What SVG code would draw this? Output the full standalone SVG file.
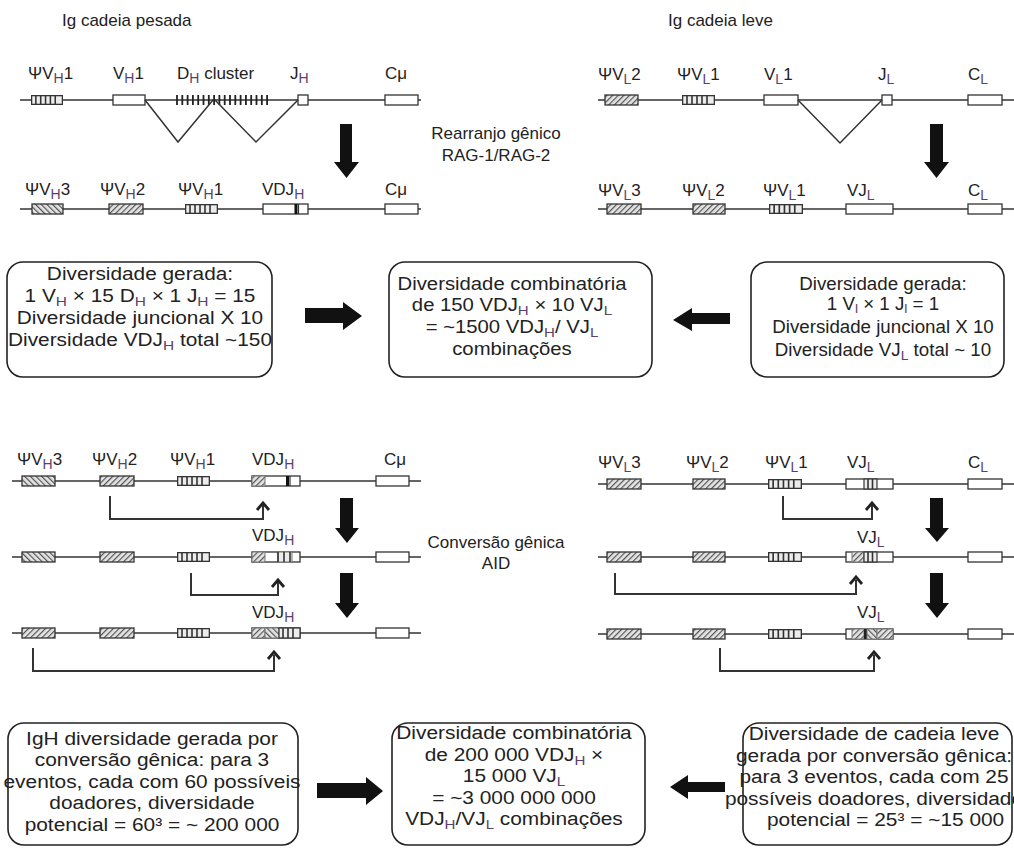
<svg xmlns="http://www.w3.org/2000/svg" xmlns:xlink="http://www.w3.org/1999/xlink" width="1014" height="848" viewBox="0 0 1014 848">
<style>
text{font-family:"Liberation Sans",Arial,sans-serif;fill:#222}
.t{font-size:17px}
.lb{font-size:17px}
.s{font-size:14px;fill:#5b3f6e}
.b{font-size:17.5px;text-anchor:middle}
.bb{font-size:18px;text-anchor:middle}
.bs{font-size:13px;fill:#5b3f6e}
.chr{stroke:#333;stroke-width:1.5;fill:none}
.bx{fill:#fff;stroke:#333;stroke-width:1.3}
.hf{fill:url(#hf);stroke:#333;stroke-width:1.3}
.hb{fill:url(#hb);stroke:#333;stroke-width:1.3}
.hfg{fill:url(#hf);stroke:#777;stroke-width:1}
.hbg{fill:url(#hb);stroke:#777;stroke-width:1}
.rb{fill:#fff;stroke:#222;stroke-width:1.6}
.con{stroke:#333;stroke-width:2;fill:none}
.chev{stroke:#222;stroke-width:2.8;fill:none;stroke-linejoin:miter}
.big{fill:#111}
.tri{stroke:#333;stroke-width:1.5;fill:none}
</style>
<defs>
<pattern id="hf" width="4" height="4" patternUnits="userSpaceOnUse" patternTransform="rotate(45)"><rect width="4" height="4" fill="#e4e4e4"/><line x1="0.6" y1="0" x2="0.6" y2="4" stroke="#555" stroke-width="1.2"/></pattern>
<pattern id="hb" width="4" height="4" patternUnits="userSpaceOnUse" patternTransform="rotate(-45)"><rect width="4" height="4" fill="#e4e4e4"/><line x1="0.6" y1="0" x2="0.6" y2="4" stroke="#555" stroke-width="1.2"/></pattern>
<symbol id="vs" viewBox="0 0 33 10" preserveAspectRatio="none">
<rect x="0.65" y="0.65" width="31.7" height="8.7" fill="#ececec" stroke="#333" stroke-width="1.3"/>
<path d="M5 0.6V9.4M10 0.6V9.4M15 0.6V9.4M20 0.6V9.4M25 0.6V9.4" stroke="#333" stroke-width="1.6"/>
</symbol>
</defs>
<rect width="1014" height="848" fill="#fff"/>

<g id="titles">
<text class="t" x="62" y="26">Ig cadeia pesada</text>
<text class="t" x="668" y="26">Ig cadeia leve</text>
<text class="t" x="496" y="139" text-anchor="middle">Rearranjo gênico</text>
<text class="t" x="496" y="161" text-anchor="middle">RAG-1/RAG-2</text>
<text class="t" x="496" y="548" text-anchor="middle">Conversão gênica</text>
<text class="t" x="496" y="569" text-anchor="middle">AID</text>
</g>

<!-- Heavy chain germline -->
<g id="heavy-germline">
<path class="chr" d="M20 100H421"/>
<g id="h1-psiVH1"><use href="#vs" x="31" y="95" width="32" height="10"/><text class="lb" x="28" y="79">ΨV<tspan class="s" dy="4">H</tspan><tspan dy="-4">1</tspan></text></g>
<g id="h1-VH1"><rect class="bx" x="113" y="95" width="32" height="10"/><text class="lb" x="113" y="79">V<tspan class="s" dy="4">H</tspan><tspan dy="-4">1</tspan></text></g>
<g id="h1-DH"><path d="M177 95v10M182.3 95v10M187.6 95v10M192.9 95v10M198.2 95v10M203.5 95v10M208.8 95v10M214.1 95v10M219.4 95v10M224.7 95v10M230 95v10M235.3 95v10M240.6 95v10M245.9 95v10M251.2 95v10M256.5 95v10M261.8 95v10M267.1 95v10" stroke="#222" stroke-width="1.8"/><text class="lb" x="177" y="79">D<tspan class="s" dy="4">H</tspan><tspan dy="-4"> cluster</tspan></text></g>
<g id="h1-JH"><rect class="bx" x="298" y="95" width="10" height="10"/><text class="lb" x="290" y="79">J<tspan class="s" dy="4">H</tspan></text></g>
<g id="h1-Cmu"><rect class="bx" x="385" y="95" width="33" height="10"/><text class="lb" x="385" y="79">Cμ</text></g>
</g>

<g id="heavy-rearranged">
<path class="chr" d="M20 209H421"/>
<g id="h2-psiVH3"><rect class="hb" x="32" y="204" width="31" height="10"/><text class="lb" x="25" y="195">ΨV<tspan class="s" dy="4">H</tspan><tspan dy="-4">3</tspan></text></g>
<g id="h2-psiVH2"><rect class="hf" x="109" y="204" width="34" height="10"/><text class="lb" x="100" y="195">ΨV<tspan class="s" dy="4">H</tspan><tspan dy="-4">2</tspan></text></g>
<g id="h2-psiVH1"><use href="#vs" x="185" y="204" width="33" height="10"/><text class="lb" x="178" y="195">ΨV<tspan class="s" dy="4">H</tspan><tspan dy="-4">1</tspan></text></g>
<g id="h2-VDJH"><rect class="bx" x="263" y="204" width="45" height="10"/><rect x="294.5" y="204" width="3" height="10" fill="#111"/><path d="M298.5 204v10" stroke="#333" stroke-width="1.2"/><text class="lb" x="262" y="195">VDJ<tspan class="s" dy="4">H</tspan></text></g>
<g id="h2-Cmu"><rect class="bx" x="385" y="204" width="33" height="10"/><text class="lb" x="385" y="195">Cμ</text></g>
</g>

<!-- Light chain germline -->
<g id="light-germline">
<path class="chr" d="M598 100H1014"/>
<g id="l1-psiVL2"><rect class="hf" x="605" y="95" width="33" height="10"/><text class="lb" x="598" y="80">ΨV<tspan class="s" dy="4">L</tspan><tspan dy="-4">2</tspan></text></g>
<g id="l1-psiVL1"><use href="#vs" x="682" y="95" width="33" height="10"/><text class="lb" x="677" y="80">ΨV<tspan class="s" dy="4">L</tspan><tspan dy="-4">1</tspan></text></g>
<g id="l1-VL1"><rect class="bx" x="764" y="95" width="34" height="10"/><text class="lb" x="764" y="80">V<tspan class="s" dy="4">L</tspan><tspan dy="-4">1</tspan></text></g>
<g id="l1-JL"><rect class="bx" x="882" y="95" width="10" height="10"/><text class="lb" x="878" y="80">J<tspan class="s" dy="4">L</tspan></text></g>
<g id="l1-CL"><rect class="bx" x="968" y="95" width="34" height="10"/><text class="lb" x="968" y="80">C<tspan class="s" dy="4">L</tspan></text></g>
</g>

<g id="light-rearranged">
<path class="chr" d="M598 209H1014"/>
<g id="l2-psiVL3"><rect class="hf" x="607" y="204" width="34" height="10"/><text class="lb" x="598" y="196">ΨV<tspan class="s" dy="4">L</tspan><tspan dy="-4">3</tspan></text></g>
<g id="l2-psiVL2"><rect class="hf" x="693" y="204" width="32" height="10"/><text class="lb" x="682" y="196">ΨV<tspan class="s" dy="4">L</tspan><tspan dy="-4">2</tspan></text></g>
<g id="l2-psiVL1"><use href="#vs" x="769" y="204" width="34" height="10"/><text class="lb" x="763" y="196">ΨV<tspan class="s" dy="4">L</tspan><tspan dy="-4">1</tspan></text></g>
<g id="l2-VJL"><rect class="bx" x="846" y="204" width="47" height="10"/><text class="lb" x="847" y="196">VJ<tspan class="s" dy="4">L</tspan></text></g>
<g id="l2-CL"><rect class="bx" x="968" y="204" width="34" height="10"/><text class="lb" x="968" y="196">C<tspan class="s" dy="4">L</tspan></text></g>
</g>

<!-- Summary boxes row 1 -->
<g id="box-heavy1">
<rect class="rb" x="7" y="262" width="265" height="115" rx="16"/>
<g transform="matrix(1.19,0,0,1,-26.6,0)">
<text class="b" x="140" y="280">Diversidade gerada:</text>
<text class="b" x="140" y="302">1 V<tspan class="bs" dy="4">H</tspan><tspan dy="-4"> × 15 D</tspan><tspan class="bs" dy="4">H</tspan><tspan dy="-4"> × 1 J</tspan><tspan class="bs" dy="4">H</tspan><tspan dy="-4"> = 15</tspan></text>
<text class="b" x="140" y="324">Diversidade juncional X 10</text>
<text class="b" x="140" y="346">Diversidade VDJ<tspan class="bs" dy="4">H</tspan><tspan dy="-4"> total ~150</tspan></text>
</g>
</g>
<g id="box-comb1">
<rect class="rb" x="389" y="262" width="263" height="115" rx="16"/>
<g transform="matrix(1.16,0,0,1,-81.92,0)">
<text class="b" x="512" y="290">Diversidade combinatória</text>
<text class="b" x="512" y="311">de 150 VDJ<tspan class="bs" dy="4">H</tspan><tspan dy="-4"> × 10 VJ</tspan><tspan class="bs" dy="4">L</tspan></text>
<text class="b" x="512" y="333">= ~1500 VDJ<tspan class="bs" dy="4">H</tspan><tspan dy="-4">/ VJ</tspan><tspan class="bs" dy="4">L</tspan></text>
<text class="b" x="512" y="355">combinações</text>
</g>
</g>
<g id="box-light1">
<rect class="rb" x="751" y="262" width="253" height="115" rx="16"/>
<g transform="matrix(1.07,0,0,1,-61.81,0)">
<text class="b" x="883" y="290">Diversidade gerada:</text>
<text class="b" x="883" y="310">1 V<tspan class="bs" font-size="10" dy="3">l</tspan><tspan dy="-3"> × 1 J</tspan><tspan class="bs" font-size="10" dy="3">l</tspan><tspan dy="-3"> = 1</tspan></text>
<text class="b" x="883" y="333">Diversidade juncional X 10</text>
<text class="b" x="883" y="356">Diversidade VJ<tspan class="bs" dy="4">L</tspan><tspan dy="-4"> total ~ 10</tspan></text>
</g>
</g>

<!-- Gene conversion heavy -->
<g id="heavy-conv-a">
<path class="chr" d="M12 481H421"/>
<g id="ha-psiVH3"><rect class="hb" x="22" y="476" width="33" height="10"/><text class="lb" x="17" y="465">ΨV<tspan class="s" dy="4">H</tspan><tspan dy="-4">3</tspan></text></g>
<g id="ha-psiVH2"><rect class="hf" x="100" y="476" width="34" height="10"/><text class="lb" x="92" y="465">ΨV<tspan class="s" dy="4">H</tspan><tspan dy="-4">2</tspan></text></g>
<g id="ha-psiVH1"><use href="#vs" x="177" y="476" width="33" height="10"/><text class="lb" x="170" y="465">ΨV<tspan class="s" dy="4">H</tspan><tspan dy="-4">1</tspan></text></g>
<g id="ha-VDJH"><rect class="bx" x="252" y="476" width="48" height="10"/><rect class="hfg" x="252" y="476" width="13" height="10"/><rect x="286" y="476" width="3" height="10" fill="#111"/><path d="M290 476v10" stroke="#333" stroke-width="1.2"/><text class="lb" x="252" y="465">VDJ<tspan class="s" dy="4">H</tspan></text></g>
<g id="ha-Cmu"><rect class="bx" x="376" y="476" width="33" height="10"/><text class="lb" x="384" y="465">Cμ</text></g>
</g>
<g id="heavy-conv-b">
<path class="chr" d="M12 557H421"/>
<rect class="hb" x="22" y="552" width="33" height="10"/>
<rect class="hf" x="100" y="552" width="34" height="10"/>
<use href="#vs" x="177" y="552" width="33" height="10"/>
<g id="hb-VDJH"><rect class="bx" x="252" y="552" width="48" height="10"/><rect class="hfg" x="252" y="552" width="13" height="10"/><rect x="278" y="552" width="14" height="10" fill="#ececec" stroke="#777" stroke-width="1"/><path d="M278 552v10M284 552v10M290 552v10" stroke="#333" stroke-width="1.6"/><text class="lb" x="252" y="541">VDJ<tspan class="s" dy="4">H</tspan></text></g>
<rect class="bx" x="376" y="552" width="33" height="10"/>
</g>
<g id="heavy-conv-c">
<path class="chr" d="M12 633H421"/>
<rect class="hf" x="22" y="628" width="33" height="10"/>
<rect class="hf" x="100" y="628" width="34" height="10"/>
<use href="#vs" x="177" y="628" width="33" height="10"/>
<g id="hc-VDJH"><rect class="bx" x="252" y="628" width="48" height="10"/><rect class="hfg" x="252" y="628" width="13" height="10"/><rect class="hbg" x="265" y="628" width="14" height="10"/><rect x="279" y="628" width="21" height="10" fill="#ececec" stroke="#333" stroke-width="1.2"/><path d="M283 628v10M288 628v10M293 628v10" stroke="#333" stroke-width="1.6"/><text class="lb" x="252" y="618">VDJ<tspan class="s" dy="4">H</tspan></text></g>
<rect class="bx" x="376" y="628" width="33" height="10"/>
</g>

<!-- Gene conversion light -->
<g id="light-conv-a">
<path class="chr" d="M598 484H1014"/>
<g id="la-psiVL3"><rect class="hf" x="607" y="479" width="34" height="10"/><text class="lb" x="598" y="468">ΨV<tspan class="s" dy="4">L</tspan><tspan dy="-4">3</tspan></text></g>
<g id="la-psiVL2"><rect class="hf" x="693" y="479" width="32" height="10"/><text class="lb" x="686" y="468">ΨV<tspan class="s" dy="4">L</tspan><tspan dy="-4">2</tspan></text></g>
<g id="la-psiVL1"><use href="#vs" x="768" y="479" width="34" height="10"/><text class="lb" x="765" y="468">ΨV<tspan class="s" dy="4">L</tspan><tspan dy="-4">1</tspan></text></g>
<g id="la-VJL"><rect class="bx" x="846" y="479" width="47" height="10"/><rect x="864" y="479" width="13" height="10" fill="#ececec" stroke="#333" stroke-width="1.2"/><path d="M868 479v10M872.5 479v10" stroke="#333" stroke-width="1.6"/><text class="lb" x="847" y="468">VJ<tspan class="s" dy="4">L</tspan></text></g>
<g id="la-CL"><rect class="bx" x="968" y="479" width="34" height="10"/><text class="lb" x="968" y="468">C<tspan class="s" dy="4">L</tspan></text></g>
</g>
<g id="light-conv-b">
<path class="chr" d="M598 557H1014"/>
<rect class="hf" x="607" y="552" width="34" height="10"/>
<rect class="hf" x="693" y="552" width="32" height="10"/>
<use href="#vs" x="768" y="552" width="34" height="10"/>
<g id="lb-VJL"><rect class="bx" x="846" y="552" width="47" height="10"/><rect class="hfg" x="852" y="552" width="12" height="10"/><rect x="864" y="552" width="13" height="10" fill="#ececec" stroke="#333" stroke-width="1.2"/><path d="M868 552v10M872.5 552v10" stroke="#333" stroke-width="1.6"/><text class="lb" x="857" y="543">VJ<tspan class="s" dy="4">L</tspan></text></g>
<rect class="bx" x="968" y="552" width="34" height="10"/>
</g>
<g id="light-conv-c">
<path class="chr" d="M598 634H1014"/>
<rect class="hf" x="607" y="629" width="34" height="10"/>
<rect class="hf" x="693" y="629" width="32" height="10"/>
<use href="#vs" x="768" y="629" width="34" height="10"/>
<g id="lc-VJL"><rect class="bx" x="846" y="629" width="47" height="10"/><rect class="hfg" x="852" y="629" width="12" height="10"/><rect x="864" y="629" width="3" height="10" fill="#222"/><rect class="hbg" x="867" y="629" width="10" height="10"/><rect class="hfg" x="877" y="629" width="16" height="10"/><text class="lb" x="857" y="618">VJ<tspan class="s" dy="4">L</tspan></text></g>
<rect class="bx" x="968" y="629" width="34" height="10"/>
</g>

<!-- Summary boxes row 2 -->
<g id="box-heavy2">
<rect class="rb" x="8" y="723" width="290" height="122" rx="16"/>
<g transform="matrix(1.16,0,0,1,-24.32,0)">
<text class="bb" x="152" y="745">IgH diversidade gerada por</text>
<text class="bb" x="152" y="766">conversão gênica: para 3</text>
<text class="bb" x="152" y="788">eventos, cada com 60 possíveis</text>
<text class="bb" x="152" y="809">doadores, diversidade</text>
<text class="bb" x="152" y="831">potencial = 60³ = ~ 200 000</text>
</g>
</g>
<g id="box-comb2">
<rect class="rb" x="392" y="723" width="253" height="122" rx="16"/>
<g transform="matrix(1.16,0,0,1,-82.24,0)">
<text class="bb" x="514" y="739">Diversidade combinatória</text>
<text class="bb" x="514" y="761">de 200 000 VDJ<tspan class="bs" dy="4">H</tspan><tspan dy="-4"> ×</tspan></text>
<text class="bb" x="514" y="782">15 000 VJ<tspan class="bs" dy="4">L</tspan></text>
<text class="bb" x="514" y="804">= ~3 000 000 000</text>
<text class="bb" x="514" y="825">VDJ<tspan class="bs" dy="4">H</tspan><tspan dy="-4">/VJ</tspan><tspan class="bs" dy="4">L</tspan><tspan dy="-4"> combinações</tspan></text>
</g>
</g>
<g id="box-light2">
<rect class="rb" x="743" y="723" width="269" height="122" rx="16"/>
<g transform="matrix(1.16,0,0,1,-139.84,0)">
<text class="bb" x="874" y="740">Diversidade de cadeia leve</text>
<text class="bb" x="874" y="762">gerada por conversão gênica:</text>
<text class="bb" x="874" y="783">para 3 eventos, cada com 25</text>
<text class="bb" x="874" y="805">possíveis doadores, diversidade</text>
<text class="bb" x="884" y="826">potencial = 25³ = ~15 000</text>
</g>
</g>

<g id="connectors">
<polyline class="tri" points="145,100 178,142 213,100"/>
<polyline class="tri" points="215,100 256,142 298,100"/>
<polyline class="tri" points="798,100 840,143 882,100"/>
<polygon class="big" points="340,124 352,124 352,162 359,162 346.5,178 334,162 340,162"/>
<polygon class="big" points="930,124 943,124 943,162 949,162 936.5,178 924,162 930,162"/>
<polygon class="big" points="305,308 343,308 343,302 362,316 343,330 343,323 305,323"/>
<polygon class="big" points="730,313 692,313 692,308 673,320 692,331 692,324 730,324"/>
<polygon class="big" points="340,498 353,498 353,528 359,528 347,543 335,528 340,528"/>
<polygon class="big" points="340,573 353,573 353,603 359,603 347,618 335,603 340,603"/>
<polygon class="big" points="930,498 943,498 943,528 949,528 937,542 925,528 930,528"/>
<polygon class="big" points="930,573 943,573 943,603 949,603 937,618 925,603 930,603"/>
<polygon class="big" points="317,783 366,783 366,777 383,791 366,805 366,798 317,798"/>
<polygon class="big" points="725,782 688,782 688,775 670,787 688,799 688,792 725,792"/>
<path class="con" d="M110 496V519H263V505"/>
<polyline class="chev" points="257,510 263,503 269,510"/>
<path class="con" d="M191 573V595H278V582"/>
<polyline class="chev" points="272,587 278,580 284,587"/>
<path class="con" d="M33 648V671H274V655"/>
<polyline class="chev" points="268,659 274,652 280,659"/>
<path class="con" d="M783 496V519H872V505"/>
<polyline class="chev" points="866,510 872,503 878,510"/>
<path class="con" d="M615 573V594H856V580"/>
<polyline class="chev" points="850,584 856,577 862,584"/>
<path class="con" d="M720 648V671H874V655"/>
<polyline class="chev" points="868,659 874,652 880,659"/>
</g>
</svg>
